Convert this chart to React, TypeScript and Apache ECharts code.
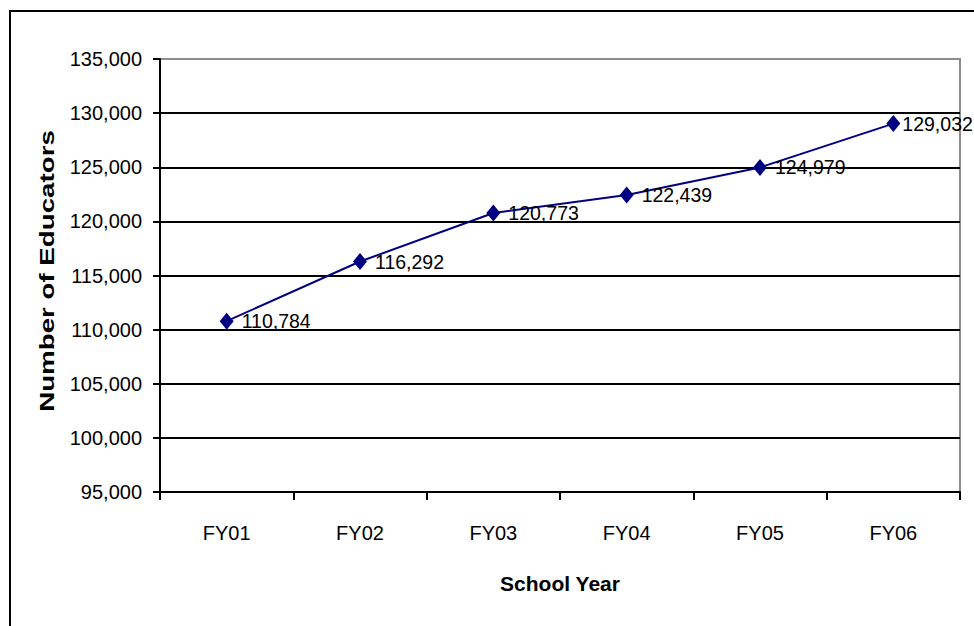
import React, { useEffect, useRef } from "react";
import * as echarts from "echarts";

const categories = ["FY01", "FY02", "FY03", "FY04", "FY05", "FY06"];
const educators = [110784, 116292, 120773, 122439, 124979, 129032];
const yMin = 95000;
const yMax = 135000;
const yStep = 5000;
const xTitle = "School Year";
const yTitle = "Number of Educators";

const SANS = '"Liberation Sans", Arial, sans-serif';
const fmt = (v: number) => v.toLocaleString("en-US");

export default function App() {
  const ref = useRef<HTMLDivElement>(null);
  useEffect(() => {
    if (!ref.current) return;
    const chart = echarts.init(ref.current, undefined, { renderer: "svg" });
    const splitColors = [...Array(8).fill("#000000"), "#8c8c8c"];
    const seriesData = educators.map((v, i) =>
      i === educators.length - 1 ? { value: v, label: { distance: 2 } } : { value: v }
    );
    chart.setOption({
      animation: false,
      backgroundColor: "#ffffff",
      grid: {
        left: 160,
        top: 59,
        right: 14,
        bottom: 134,
        show: true,
        borderColor: "#8c8c8c",
        borderWidth: 2,
        backgroundColor: "transparent",
      },
      xAxis: {
        type: "category",
        data: categories,
        boundaryGap: true,
        axisLine: { lineStyle: { color: "#000", width: 2 } },
        axisTick: { show: true, length: 8, lineStyle: { color: "#000", width: 2 } },
        axisLabel: { color: "#000", fontFamily: SANS, fontSize: 20, margin: 31 },
        name: xTitle,
        nameLocation: "middle",
        nameGap: 81,
        nameTextStyle: { color: "#000", fontFamily: SANS, fontWeight: "bold", fontSize: 21 },
      },
      yAxis: {
        type: "value",
        min: yMin,
        max: yMax,
        interval: yStep,
        axisLine: { show: true, lineStyle: { color: "#000", width: 2 } },
        axisTick: { show: true, length: 7, lineStyle: { color: "#000", width: 2 } },
        axisLabel: { color: "#000", fontFamily: SANS, fontSize: 20, margin: 18, formatter: (v: number) => fmt(v) },
        splitLine: { show: true, lineStyle: { color: splitColors, width: 2 } },
      },
      graphic: [
        {
          type: "rect",
          shape: { x: 10, y: 11, width: 970, height: 620 },
          style: { fill: "none", stroke: "#000", lineWidth: 2 },
          silent: true,
        },
        {
          type: "text",
          x: 47,
          y: 271,
          rotation: Math.PI / 2,
          scaleX: 1.32,
          style: {
            text: yTitle,
            font: 'bold 21px "Liberation Sans", Arial, sans-serif',
            fill: "#000",
            align: "center",
            verticalAlign: "middle",
          },
        },
      ],
      series: [
        {
          type: "line",
          data: seriesData,
          symbol: "diamond",
          symbolSize: [14, 17],
          lineStyle: { color: "#000080", width: 2 },
          itemStyle: { color: "#000080" },
          label: {
            show: true,
            position: "right",
            distance: 8,
            color: "#000",
            fontFamily: SANS,
            fontSize: 19.5,
            formatter: (p: any) => fmt(p.value),
          },
        },
      ],
    });
    return () => chart.dispose();
  }, []);
  return (
    <div
      ref={ref}
      style={{ position: "absolute", left: 0, top: 0, width: 974, height: 626 }}
    />
  );
}
